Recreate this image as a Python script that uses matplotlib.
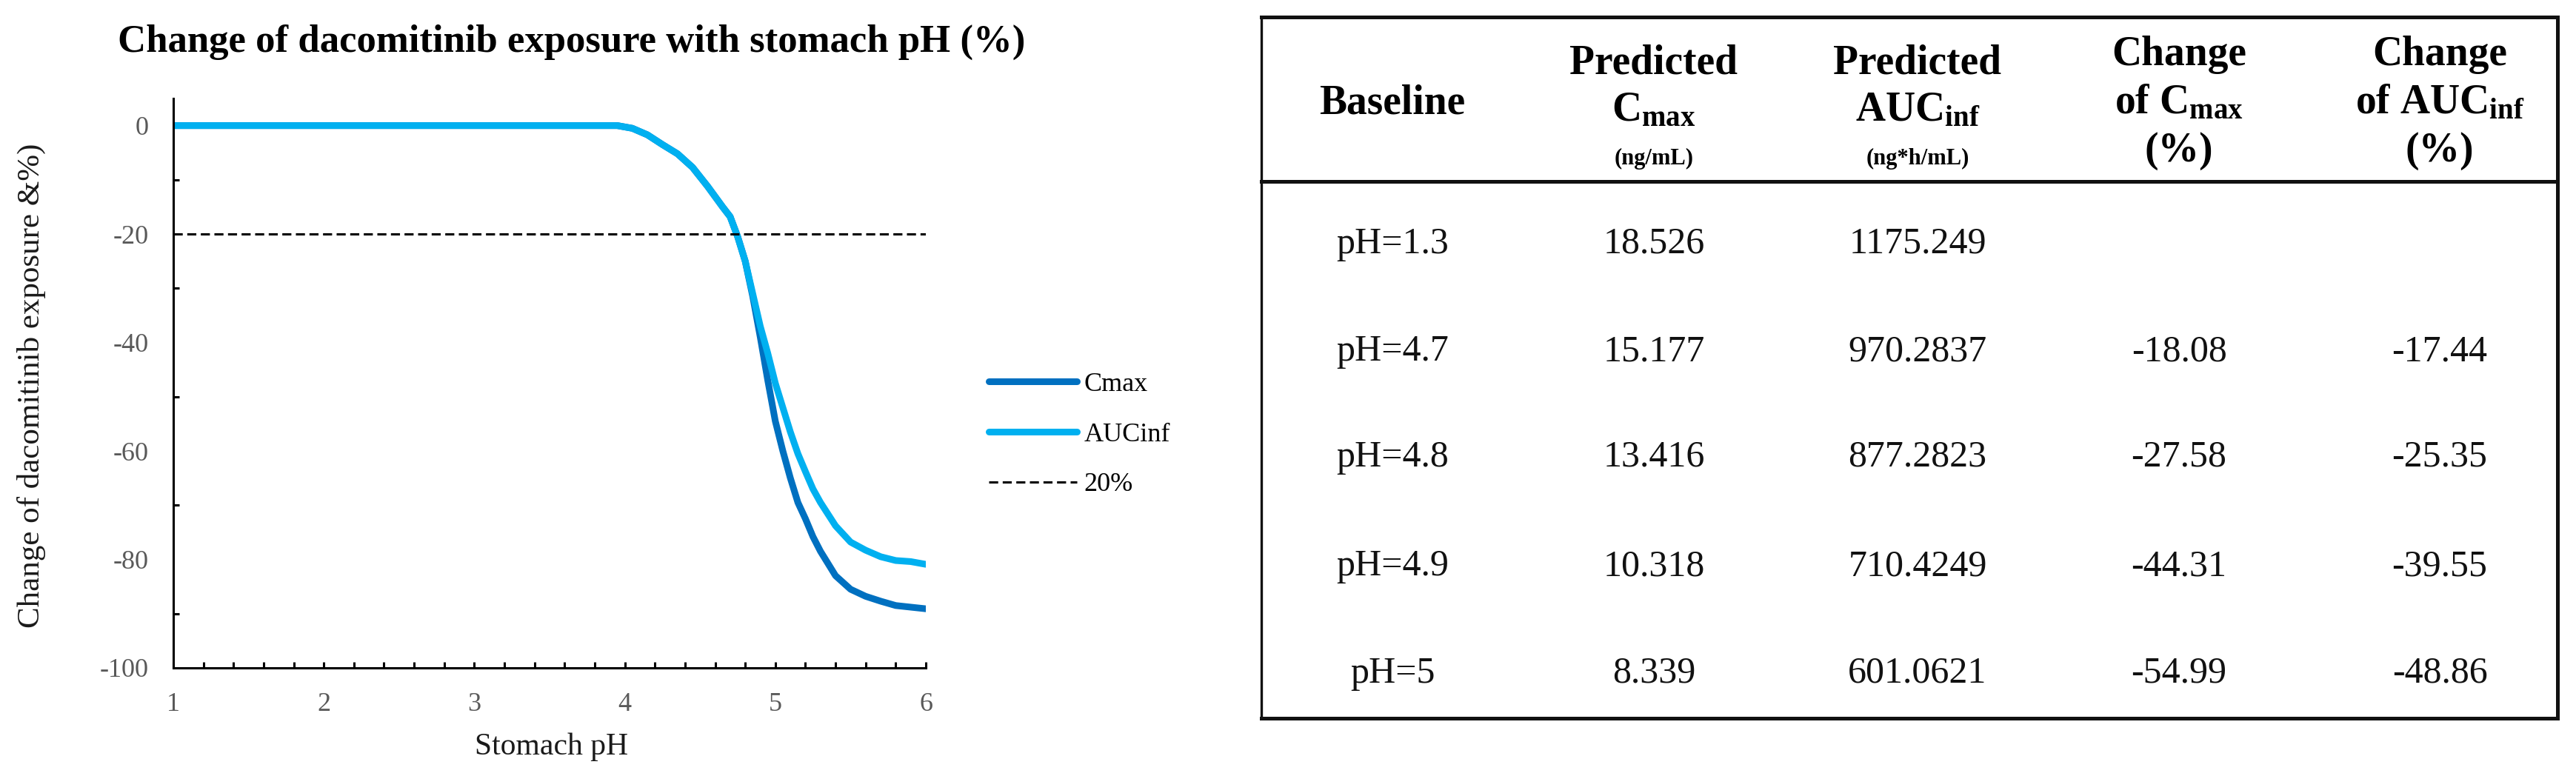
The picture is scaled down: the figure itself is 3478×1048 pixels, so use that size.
import matplotlib
matplotlib.use("Agg")
import matplotlib.pyplot as plt
from matplotlib.ticker import MultipleLocator, FixedLocator

plt.rcParams['font.family'] = ['Liberation Serif', 'DejaVu Serif']
plt.rcParams['mathtext.fontset'] = 'custom'
plt.rcParams['mathtext.rm'] = 'Liberation Serif'
plt.rcParams['mathtext.bf'] = 'Liberation Serif:bold'
plt.rcParams['mathtext.it'] = 'Liberation Serif:italic'
plt.rcParams['axes.unicode_minus'] = False

# curve data
ph = [1.0, 3.95, 4.05, 4.15, 4.25, 4.35, 4.45, 4.55, 4.65, 4.70, 4.75, 4.80,
      4.85, 4.90, 4.95, 5.00, 5.05, 5.10, 5.15, 5.20, 5.25, 5.30, 5.40, 5.50,
      5.60, 5.70, 5.80, 5.90, 6.0]
cmax_change = [0, 0, -0.5, -1.7, -3.5, -5.2, -7.7, -11.2, -15.0, -16.8, -20.5, -25.0,
               -31.5, -39.0, -47.0, -54.5, -60.0, -65.0, -69.5, -72.5, -75.8, -78.5, -83.0, -85.5,
               -86.8, -87.7, -88.5, -88.8, -89.1]
auc_change = [0, 0, -0.5, -1.7, -3.5, -5.2, -7.7, -11.2, -15.0, -16.8, -20.5, -25.0,
              -31.0, -37.0, -42.0, -47.5, -52.0, -56.5, -60.5, -63.8, -67.0, -69.5, -73.8, -76.8,
              -78.3, -79.5, -80.2, -80.4, -80.9]
threshold_ph = [1, 6]
threshold_val = [-20, -20]

# table data
baseline = ['pH=1.3', 'pH=4.7', 'pH=4.8', 'pH=4.9', 'pH=5']
pred_cmax = ['18.526', '15.177', '13.416', '10.318', '8.339']
pred_auc = ['1175.249', '970.2837', '877.2823', '710.4249', '601.0621']
chg_cmax = ['', '-18.08', '-27.58', '-44.31', '-54.99']
chg_auc = ['', '-17.44', '-25.35', '-39.55', '-48.86']

W, H = 3478, 1048
fig = plt.figure(figsize=(W / 100, H / 100), dpi=100)

# ---- line chart ----
ax = fig.add_axes([234 / W, 1 - 902 / H, (1250 - 234) / W, (902 - 133) / H])
ax.plot(ph, cmax_change, color='#0070C0', lw=6.5, solid_capstyle='round', label='Cmax')
ax.plot(ph, auc_change, color='#00B0F0', lw=6.5, solid_capstyle='round', label='AUCinf')
ax.plot(threshold_ph, threshold_val, color='black', lw=2.2, dashes=(4, 2), label='20%')

ax.set_xlim(1, 6)
ax.set_ylim(-100, 5)
ax.spines['top'].set_visible(False)
ax.spines['right'].set_visible(False)
for s in ('left', 'bottom'):
    ax.spines[s].set_linewidth(2.2)

ax.xaxis.set_major_locator(MultipleLocator(1))
ax.xaxis.set_minor_locator(MultipleLocator(0.2))
ax.yaxis.set_major_locator(FixedLocator([0, -20, -40, -60, -80, -100]))
ax.yaxis.set_minor_locator(FixedLocator([-10, -30, -50, -70, -90]))
ax.tick_params(axis='x', which='both', direction='in', length=6, width=2.2,
               labelsize=26, labelcolor='#595959', pad=24)
ax.tick_params(axis='y', which='major', direction='in', length=0,
               labelsize=26, labelcolor='#595959', pad=24)
ax.tick_params(axis='y', which='minor', direction='in', length=6, width=2.2)

fig.text(772 / W, 1 - 70 / H, 'Change of dacomitinib exposure with stomach pH (%)',
         ha='center', va='baseline', fontsize=38, fontweight='bold')
fig.text(42 / W, 1 - 521 / H, 'Change of dacomitinib exposure &%)', rotation=90,
         ha='center', va='center', fontsize=31, color='#1a1a1a')
fig.text(745 / W, 1 - 1009 / H, 'Stomach pH', ha='center', va='center',
         fontsize=30, color='#1a1a1a')

fig.legend(loc='center left', bbox_to_anchor=(1335 / W, 1 - 587 / H), frameon=False,
           fontsize=26, handlelength=3.3, handletextpad=0.25, labelspacing=0.95,
           borderpad=0, borderaxespad=0)

# ---- table ----
tax = fig.add_axes([0, 0, 1, 1])
tax.set_xlim(0, W)
tax.set_ylim(H, 0)
tax.axis('off')

left, right, top, head, bottom = 1703, 3453, 23, 245, 970
tax.plot([left, right], [top, top], color='#111111', lw=3.6)
tax.plot([left, right], [head, head], color='#111111', lw=3.6)
tax.plot([left, right], [bottom, bottom], color='#111111', lw=3.6)
tax.plot([left, left], [top, bottom], color='#111111', lw=2.4)
tax.plot([right, right], [top, bottom], color='#111111', lw=3.6)

cols = [1880, 2233, 2589, 2942, 3294]
hb = dict(ha='center', va='baseline', fontsize=40, fontweight='bold')
tax.text(cols[0], 153, 'Baseline', **hb)
tax.text(cols[1], 100, 'Predicted', **hb)
tax.text(cols[1], 163, r'$\mathbf{C}_{\mathbf{max}}$', **hb)
tax.text(cols[1], 222, '(ng/mL)', ha='center', va='baseline', fontsize=22, fontweight='bold')
tax.text(cols[2], 100, 'Predicted', **hb)
tax.text(cols[2], 163, r'$\mathbf{AUC}_{\mathbf{inf}}$', **hb)
tax.text(cols[2], 222, '(ng*h/mL)', ha='center', va='baseline', fontsize=22, fontweight='bold')
tax.text(cols[3], 88, 'Change', **hb)
tax.text(cols[3], 153, r'of $\mathbf{C}_{\mathbf{max}}$', **hb)
tax.text(cols[3], 218, '(%)', **hb)
tax.text(cols[4], 88, 'Change', **hb)
tax.text(cols[4], 153, r'of $\mathbf{AUC}_{\mathbf{inf}}$', **hb)
tax.text(cols[4], 218, '(%)', **hb)

row_base = [342, 487, 630, 777, 922]
for i, yb in enumerate(row_base):
    for c, col in enumerate([baseline, pred_cmax, pred_auc, chg_cmax, chg_auc]):
        tax.text(cols[c], yb, col[i], ha='center', va='baseline', fontsize=36, color='#111111')

fig.savefig('out.png', dpi=100)
